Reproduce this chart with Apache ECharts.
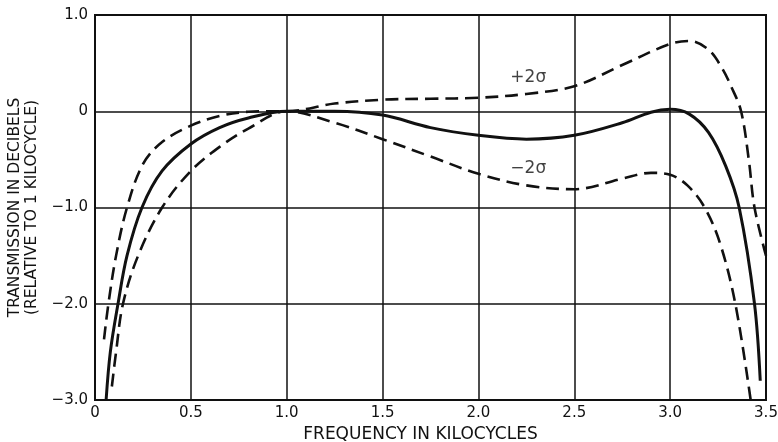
<!DOCTYPE html>
<html><head><meta charset="utf-8">
<script src="https://cdn.jsdelivr.net/npm/echarts@6/dist/echarts.min.js"></script>
<style>html,body{margin:0;padding:0;background:#fff}#c{width:778px;height:442px}</style>
</head><body><div id="c"></div>
<script>
const xTicks = [0, 0.5, 1.0, 1.5, 2.0, 2.5, 3.0, 3.5];
const yTicks = [-3.0, -2.0, -1.0, 0, 1.0];

const freqMean = [0.058, 0.08, 0.12, 0.167, 0.245, 0.35, 0.5, 0.65, 0.8, 1.0, 1.25, 1.5, 1.75, 2.0, 2.25, 2.5, 2.75, 2.9, 3.0, 3.1, 3.2, 3.29, 3.36, 3.44, 3.47];
const dbMean   = [-3.0, -2.5, -2.0, -1.5, -1.0, -0.62, -0.34, -0.17, -0.07, 0, 0.0, -0.04, -0.17, -0.25, -0.29, -0.25, -0.12, -0.01, 0.02, -0.03, -0.22, -0.57, -1.0, -2.0, -2.8];

const freqPlus = [0.047, 0.07, 0.11, 0.167, 0.25, 0.35, 0.5, 0.65, 0.8, 0.9, 1.0, 1.25, 1.5, 1.75, 2.0, 2.25, 2.5, 2.75, 3.0, 3.1, 3.2, 3.27, 3.32, 3.37, 3.41, 3.44, 3.5];
const dbPlus   = [-2.37, -2.0, -1.5, -1.0, -0.55, -0.32, -0.15, -0.05, -0.005, 0.0, 0, 0.08, 0.12, 0.13, 0.14, 0.18, 0.26, 0.48, 0.70, 0.73, 0.64, 0.45, 0.25, 0.0, -0.5, -1.0, -1.5];

const freqMinus = [0.088, 0.11, 0.146, 0.225, 0.35, 0.5, 0.65, 0.8, 1.0, 1.25, 1.5, 1.75, 2.0, 2.25, 2.5, 2.75, 2.9, 3.0, 3.09, 3.18, 3.26, 3.34, 3.42];
const dbMinus   = [-2.86, -2.5, -2.0, -1.5, -1.0, -0.62, -0.37, -0.18, 0, -0.12, -0.29, -0.47, -0.65, -0.77, -0.81, -0.70, -0.64, -0.66, -0.77, -1.0, -1.37, -2.0, -3.0];

const labelPlus = ['+2\u03c3', 2.26, 0.35];
const labelMinus = ['\u22122\u03c3', 2.26, -0.60];

const pairs = (xs, ys) => xs.map((x, i) => [x, ys[i]]);
const font = '"DejaVu Sans", "Noto Sans", sans-serif';
const chart = echarts.init(document.getElementById('c'), null, {renderer: 'canvas'});
const fmt = v => Math.abs(v) < 1e-9 ? '0' : (v < 0 ? '\u2212' : '') + Math.abs(v).toFixed(1);

chart.setOption({
  animation: false,
  backgroundColor: '#fff',
  grid: {left: 95, right: 12, top: 15, bottom: 42, outerBoundsMode: 'none', containLabel: false, show: true, borderColor: '#111', borderWidth: 2, backgroundColor: 'transparent'},
  xAxis: {
    type: 'value', min: 0, max: 3.5, interval: 0.5,
    name: 'FREQUENCY IN KILOCYCLES', nameLocation: 'middle', nameGap: 25,
    nameTextStyle: {fontFamily: font, fontSize: 17, color: '#111', padding: [0, 20, 0, 0]},
    axisLine: {show: false}, axisTick: {show: false},
    axisLabel: {fontFamily: font, fontSize: 15, color: '#111', margin: 6, formatter: v => xTicks.includes(+v.toFixed(2)) ? fmt(v) : ''},
    splitLine: {show: true, lineStyle: {color: '#111', width: 1.5}}
  },
  yAxis: {
    type: 'value', min: -3, max: 1, interval: 1,
    name: 'TRANSMISSION IN DECIBELS\n(RELATIVE TO 1 KILOCYCLE)', nameLocation: 'middle', nameGap: 48, nameRotate: 90,
    nameTextStyle: {fontFamily: font, fontSize: 15.5, color: '#111', lineHeight: 17},
    axisLine: {show: false}, axisTick: {show: false},
    axisLabel: {fontFamily: font, fontSize: 15, color: '#111', margin: 7, formatter: v => yTicks.includes(v) ? fmt(v) : ''},
    splitLine: {show: true, lineStyle: {color: '#111', width: 1.5}}
  },
  series: [
    {type: 'line', data: pairs(freqMean, dbMean), smooth: 0.35, showSymbol: false, lineStyle: {color: '#111', width: 3}},
    {type: 'line', data: pairs(freqPlus, dbPlus), smooth: 0.35, showSymbol: false, lineStyle: {color: '#111', width: 2.6, type: [13, 7]}},
    {type: 'line', data: pairs(freqMinus, dbMinus), smooth: 0.35, showSymbol: false, lineStyle: {color: '#111', width: 2.6, type: [13, 7]}},
    {type: 'scatter', symbolSize: 0, silent: true,
     data: [labelPlus, labelMinus].map(l => ({value: [l[1], l[2]], label: {show: true, formatter: l[0], position: 'inside', fontFamily: font, fontSize: 17, color: '#111'}}))}
  ]
});
</script></body></html>
